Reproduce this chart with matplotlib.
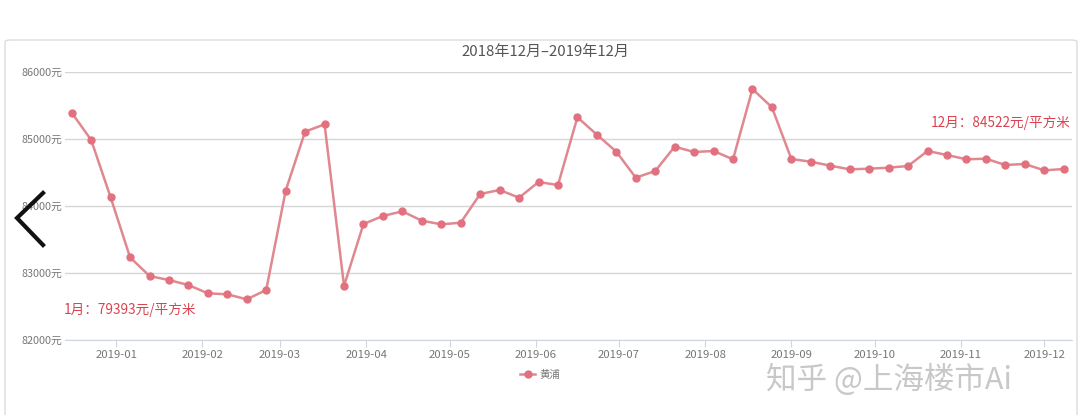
import matplotlib
matplotlib.use("Agg")
import matplotlib.pyplot as plt
import matplotlib.dates as mdates
from matplotlib.lines import Line2D
from matplotlib.patches import FancyBboxPatch
import pandas as pd

plt.rcParams['font.family'] = ['Noto Sans CJK SC', 'DejaVu Sans']

# ---- data ----
title = "2018年12月–2019年12月"
series_name = "黄浦"
dates = pd.date_range("2018-12-16", periods=52, freq="7D")
prices = [85393, 84985, 84130, 83234, 82955, 82895, 82820, 82697, 82682, 82607,
          82746, 84229, 85110, 85219, 82808, 83731, 83851, 83920, 83781, 83726,
          83751, 84179, 84239, 84124, 84358, 84313, 85324, 85065, 84811, 84423,
          84522, 84885, 84806, 84821, 84697, 85746, 85473, 84701, 84661, 84602,
          84547, 84557, 84572, 84597, 84821, 84761, 84697, 84706, 84612, 84627,
          84532, 84552]
y_ticks = [82000, 83000, 84000, 85000, 86000]
note_jan = "1月：79393元/平方米"
note_dec = "12月：84522元/平方米"
watermark = "知乎 @上海楼市Ai"

W, H = 1080, 415
fig = plt.figure(figsize=(W / 100, H / 100), dpi=100)
fig.patch.set_facecolor("white")

def fx(px):
    return px / W

def fy(py):
    return 1 - py / H

# panel frame
frame = FancyBboxPatch((fx(5), fy(440)), fx(1077) - fx(5), fy(40) - fy(440),
                       boxstyle="round,pad=0,rounding_size=0.005",
                       transform=fig.transFigure, facecolor="white",
                       edgecolor="#dcdcdc", linewidth=1, zorder=0)
fig.add_artist(frame)

ax = fig.add_axes([fx(65), fy(340), fx(1072) - fx(65), fy(72) - fy(340)])
ax.set_facecolor("none")

line_color = "#e0888f"
marker_color = "#e2717f"
ln, = ax.plot(dates, prices, color=line_color, lw=1.8, marker="o", markersize=5,
              markerfacecolor=marker_color, markeredgecolor=marker_color,
              zorder=3, label=series_name)

ax.set_ylim(82000, 86000)
ax.set_yticks(y_ticks)
ax.yaxis.set_major_formatter(matplotlib.ticker.FuncFormatter(lambda v, p: f"{int(v)}元"))
ax.xaxis.set_major_locator(mdates.MonthLocator(bymonth=range(1, 13)))
ax.xaxis.set_major_formatter(mdates.DateFormatter("%Y-%m"))

ax.grid(axis="y", color="#d6d6d6", linewidth=1)
ax.set_axisbelow(True)
for s in ["top", "right", "left"]:
    ax.spines[s].set_visible(False)
ax.spines["bottom"].set_color("#d0d6e0")
ax.tick_params(axis="y", length=0, labelsize=7.8, labelcolor="#777777", pad=2)
ax.tick_params(axis="x", length=5, color="#d0d6e0", labelsize=8.2,
               labelcolor="#777777", pad=2)
ax.set_xlim(pd.Timestamp("2018-12-13 14:00"), pd.Timestamp("2019-12-11"))

# title
fig.text(fx(545), fy(52), title, ha="center", va="center", fontsize=10.8, color="#555555")

# annotations
fig.text(fx(64), fy(310), note_jan, ha="left", va="center", fontsize=9.8, color="#d9434f")
fig.text(fx(1071), fy(123), note_dec, ha="right", va="center", fontsize=9.8, color="#d9434f")

# legend
fig.legend(handles=[ln], labels=[series_name], loc="center",
           bbox_to_anchor=(fx(540), fy(375)), frameon=False, fontsize=7.5,
           handlelength=1.4, handletextpad=0.4, labelcolor="#777777", markerscale=1.0)

# watermark
fig.text(fx(766), fy(380), watermark, ha="left", va="center", fontsize=22,
         color="#c8c8c8", zorder=10)

# carousel arrow overlay
fig.add_artist(Line2D([fx(43), fx(17), fx(43)], [fy(193), fy(218), fy(245)],
                      transform=fig.transFigure, color="#111111", lw=3,
                      solid_joinstyle="miter", zorder=20))

fig.savefig("out.png", dpi=100, facecolor="white")
